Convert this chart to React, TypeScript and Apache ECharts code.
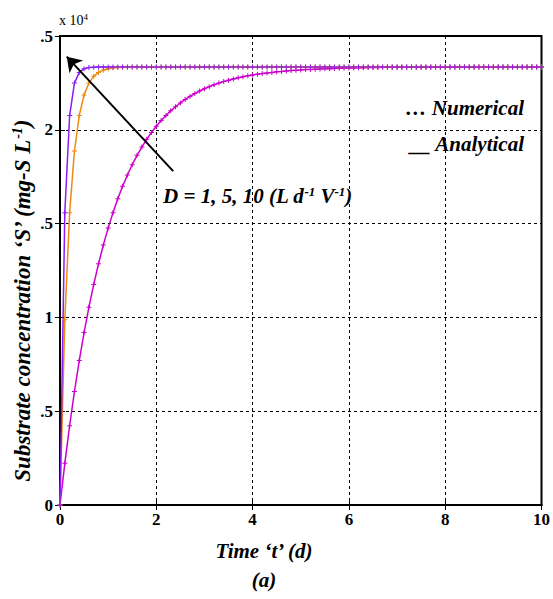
import React, { useEffect, useRef } from "react";
import * as echarts from "echarts";

// Time (d), sampled every 0.1 d
const timeDays = [
  0, 0.1, 0.2, 0.3, 0.4, 0.5, 0.6, 0.7, 0.8, 0.9,
  1, 1.1, 1.2, 1.3, 1.4, 1.5, 1.6, 1.7, 1.8, 1.9,
  2, 2.1, 2.2, 2.3, 2.4, 2.5, 2.6, 2.7, 2.8, 2.9,
  3, 3.1, 3.2, 3.3, 3.4, 3.5, 3.6, 3.7, 3.8, 3.9,
  4, 4.1, 4.2, 4.3, 4.4, 4.5, 4.6, 4.7, 4.8, 4.9,
  5, 5.1, 5.2, 5.3, 5.4, 5.5, 5.6, 5.7, 5.8, 5.9,
  6, 6.1, 6.2, 6.3, 6.4, 6.5, 6.6, 6.7, 6.8, 6.9,
  7, 7.1, 7.2, 7.3, 7.4, 7.5, 7.6, 7.7, 7.8, 7.9,
  8, 8.1, 8.2, 8.3, 8.4, 8.5, 8.6, 8.7, 8.8, 8.9,
  9, 9.1, 9.2, 9.3, 9.4, 9.5, 9.6, 9.7, 9.8, 9.9,
  10,
];

// Substrate concentration S (x 10^4 mg-S/L) for D = 1
const sD1 = [
  0, 0.222, 0.423, 0.605, 0.77, 0.919, 1.054, 1.175, 1.286, 1.386,
  1.476, 1.558, 1.632, 1.699, 1.759, 1.814, 1.864, 1.908, 1.949, 1.986,
  2.019, 2.049, 2.076, 2.101, 2.123, 2.143, 2.162, 2.178, 2.193, 2.207,
  2.219, 2.23, 2.24, 2.249, 2.257, 2.264, 2.271, 2.277, 2.283, 2.288,
  2.292, 2.296, 2.3, 2.303, 2.306, 2.309, 2.311, 2.314, 2.316, 2.318,
  2.319, 2.321, 2.322, 2.323, 2.324, 2.325, 2.326, 2.327, 2.328, 2.329,
  2.329, 2.33, 2.331, 2.331, 2.332, 2.332, 2.332, 2.333, 2.333, 2.333,
  2.333, 2.334, 2.334, 2.334, 2.334, 2.334, 2.334, 2.334, 2.334, 2.334,
  2.335, 2.335, 2.335, 2.335, 2.335, 2.335, 2.335, 2.335, 2.335, 2.335,
  2.335, 2.335, 2.335, 2.335, 2.335, 2.335, 2.335, 2.335, 2.335, 2.335,
  2.335,
];

// D = 5
const sD5 = [
  0, 0.988, 1.558, 1.887, 2.076, 2.186, 2.249, 2.285, 2.306, 2.318,
  2.325, 2.329, 2.332, 2.333, 2.334, 2.335, 2.335, 2.335, 2.335, 2.335,
  2.335, 2.335, 2.335, 2.335, 2.335, 2.335, 2.335, 2.335, 2.335, 2.335,
  2.335, 2.335, 2.335, 2.335, 2.335, 2.335, 2.335, 2.335, 2.335, 2.335,
  2.335, 2.335, 2.335, 2.335, 2.335, 2.335, 2.335, 2.335, 2.335, 2.335,
  2.335, 2.335, 2.335, 2.335, 2.335, 2.335, 2.335, 2.335, 2.335, 2.335,
  2.335, 2.335, 2.335, 2.335, 2.335, 2.335, 2.335, 2.335, 2.335, 2.335,
  2.335, 2.335, 2.335, 2.335, 2.335, 2.335, 2.335, 2.335, 2.335, 2.335,
  2.335, 2.335, 2.335, 2.335, 2.335, 2.335, 2.335, 2.335, 2.335, 2.335,
  2.335, 2.335, 2.335, 2.335, 2.335, 2.335, 2.335, 2.335, 2.335, 2.335,
  2.335,
];

// D = 10
const sD10 = [
  0, 1.558, 2.076, 2.249, 2.306, 2.325, 2.332, 2.334, 2.335, 2.335,
  2.335, 2.335, 2.335, 2.335, 2.335, 2.335, 2.335, 2.335, 2.335, 2.335,
  2.335, 2.335, 2.335, 2.335, 2.335, 2.335, 2.335, 2.335, 2.335, 2.335,
  2.335, 2.335, 2.335, 2.335, 2.335, 2.335, 2.335, 2.335, 2.335, 2.335,
  2.335, 2.335, 2.335, 2.335, 2.335, 2.335, 2.335, 2.335, 2.335, 2.335,
  2.335, 2.335, 2.335, 2.335, 2.335, 2.335, 2.335, 2.335, 2.335, 2.335,
  2.335, 2.335, 2.335, 2.335, 2.335, 2.335, 2.335, 2.335, 2.335, 2.335,
  2.335, 2.335, 2.335, 2.335, 2.335, 2.335, 2.335, 2.335, 2.335, 2.335,
  2.335, 2.335, 2.335, 2.335, 2.335, 2.335, 2.335, 2.335, 2.335, 2.335,
  2.335, 2.335, 2.335, 2.335, 2.335, 2.335, 2.335, 2.335, 2.335, 2.335,
  2.335,
];

// Y tick labels as they appear (left part cut off in the figure)
const yTickValues = [0, 0.5, 1, 1.5, 2, 2.5];
const yTickTexts = ["0", ".5", "1", ".5", "2", ".5"];

// Arrow annotation: from tail to head (data coords)
const arrowTail = [2.35, 1.78];
const arrowHead = [0.14, 2.39];

const SERIF = '"Liberation Serif", "Times New Roman", serif';
const PLUS = "path://M2,0H3V2H5V3H3V5H2V3H0V2H2Z";

export default function App() {
  const ref = useRef<HTMLDivElement>(null);

  useEffect(() => {
    if (!ref.current) return;
    const chart = echarts.init(ref.current, undefined, { renderer: "svg" });

    const mk = (name: string, vals: number[], color: string, extra: any = {}) => ({
      name,
      type: "line",
      data: timeDays.map((t, i) => [t, vals[i]]),
      showSymbol: true,
      symbol: PLUS,
      symbolSize: 5,
      lineStyle: { color, width: 1.5 },
      itemStyle: { color },
      z: 3,
      ...extra,
    });

    const gridLine = { show: true, lineStyle: { color: "#000", width: 1, type: [3, 3] } };

    chart.setOption({
      animation: false,
      backgroundColor: "#fff",
      grid: { left: 60, right: 10, top: 36, bottom: 94, show: true, borderColor: "#000", borderWidth: 2 },
      xAxis: [
        {
          type: "value",
          min: 0,
          max: 10,
          interval: 2,
          axisLine: { show: true, lineStyle: { color: "#000", width: 2 } },
          axisTick: { show: true, inside: true, length: 5, lineStyle: { color: "#000" } },
          axisLabel: { color: "#000", fontFamily: SERIF, fontWeight: "bold", fontSize: 17, margin: 6 },
          splitLine: gridLine,
        },
        {
          type: "value",
          position: "top",
          min: 0,
          max: 10,
          interval: 2,
          axisLine: { show: true, lineStyle: { color: "#000", width: 2 } },
          axisTick: { show: true, inside: true, length: 5, lineStyle: { color: "#000" } },
          axisLabel: { show: false },
          splitLine: { show: false },
        },
      ],
      yAxis: [
        {
          type: "value",
          min: 0,
          max: 2.5,
          interval: 0.5,
          axisLine: { show: true, lineStyle: { color: "#000", width: 2 } },
          axisTick: { show: true, inside: true, length: 5, lineStyle: { color: "#000" } },
          axisLabel: {
            color: "#000",
            fontFamily: SERIF,
            fontWeight: "bold",
            fontSize: 17,
            margin: 7,
            formatter: (v: number) => {
              const i = yTickValues.findIndex((x) => Math.abs(x - v) < 1e-6);
              return i >= 0 ? yTickTexts[i] : "";
            },
          },
          splitLine: gridLine,
        },
        {
          type: "value",
          position: "right",
          min: 0,
          max: 2.5,
          interval: 0.5,
          axisLine: { show: true, lineStyle: { color: "#000", width: 2 } },
          axisTick: { show: true, inside: true, length: 5, lineStyle: { color: "#000" } },
          axisLabel: { show: false },
          splitLine: { show: false },
        },
      ],
      series: [
        mk("D = 1", sD1, "#CC00CC"),
        mk("D = 5", sD5, "#EE8A10"),
        mk("D = 10", sD10, "#8A1CF5", {
          markLine: {
            silent: true,
            symbol: ["none", "arrow"],
            symbolSize: 14,
            label: { show: false },
            lineStyle: { color: "#000", width: 2, type: "solid" },
            data: [[{ coord: arrowTail }, { coord: arrowHead }]],
          },
        }),
      ],
      graphic: [
        {
          type: "text",
          x: 59,
          y: 12,
          style: {
            text: "x 10{sup|4}",
            font: `14px ${SERIF}`,
            fill: "#000",
            rich: { sup: { fontSize: 9, verticalAlign: "top", padding: [0, 0, 7, 0], fontFamily: SERIF } },
          },
        },
        {
          type: "text",
          x: 22,
          y: 301,
          rotation: Math.PI / 2,
          style: {
            text: "Substrate concentration ‘S’ (mg-S L{sup|-1})",
            font: `italic bold 23px ${SERIF}`,
            fill: "#000",
            align: "center",
            verticalAlign: "middle",
            rich: {
              sup: { fontSize: 14, fontStyle: "italic", fontWeight: "bold", fontFamily: SERIF, padding: [0, 0, 10, 0] },
            },
          },
        },
        {
          type: "text",
          x: 163,
          y: 196,
          style: {
            text: "D = 1, 5, 10 (L d{sup|-1} V{sup|-1})",
            font: `italic bold 21px ${SERIF}`,
            fill: "#000",
            align: "left",
            verticalAlign: "middle",
            rich: {
              sup: { fontSize: 13, fontStyle: "italic", fontWeight: "bold", fontFamily: SERIF, padding: [0, 0, 10, 0] },
            },
          },
        },
        {
          type: "text",
          x: 524,
          y: 108,
          style: {
            text: "… Numerical",
            font: `italic bold 21px ${SERIF}`,
            fill: "#000",
            align: "right",
            verticalAlign: "middle",
          },
        },
        {
          type: "text",
          x: 524,
          y: 144,
          style: {
            text: "__ Analytical",
            font: `italic bold 21px ${SERIF}`,
            fill: "#000",
            align: "right",
            verticalAlign: "middle",
          },
        },
        {
          type: "text",
          x: 264,
          y: 551,
          style: {
            text: "Time ‘t’ (d)",
            font: `italic bold 21px ${SERIF}`,
            fill: "#000",
            align: "center",
            verticalAlign: "middle",
          },
        },
        {
          type: "text",
          x: 264,
          y: 580,
          style: {
            text: "(a)",
            font: `italic bold 21px ${SERIF}`,
            fill: "#000",
            align: "center",
            verticalAlign: "middle",
          },
        },
      ],
    });

    return () => chart.dispose();
  }, []);

  return (
    <div
      ref={ref}
      style={{ position: "absolute", left: 0, top: 0, width: 553, height: 599, background: "#fff" }}
    />
  );
}
